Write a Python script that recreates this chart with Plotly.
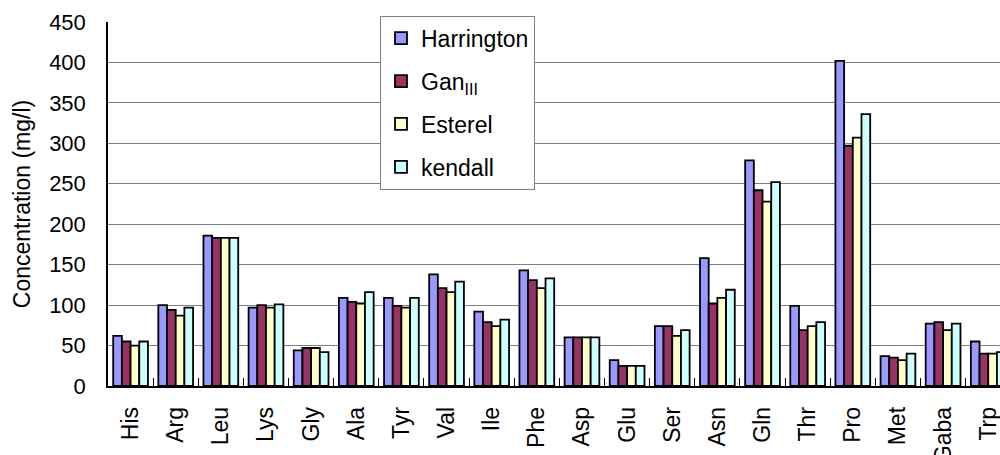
import plotly.graph_objects as go

# Amino acid concentrations (mg/l) in four wines
amino_acids = ["His", "Arg", "Leu", "Lys", "Gly", "Ala", "Tyr", "Val", "Ile", "Phe",
               "Asp", "Glu", "Ser", "Asn", "Gln", "Thr", "Pro", "Met", "Gaba", "Trp"]

harrington = [62, 100, 186, 97, 44, 109, 109, 138, 92, 143,
              60, 32, 74, 158, 279, 99, 402, 37, 77, 55]
gan_iii = [55, 94, 183, 100, 47, 104, 99, 121, 79, 131,
           60, 25, 74, 102, 242, 69, 297, 35, 79, 40]
esterel = [50, 87, 183, 97, 47, 102, 97, 116, 74, 121,
           60, 25, 62, 109, 228, 74, 307, 32, 69, 40]
kendall = [55, 97, 183, 101, 42, 116, 109, 129, 82, 133,
           60, 25, 69, 119, 252, 79, 336, 40, 77, 42]

series_names = ["Harrington", "Gan<sub>III</sub>", "Esterel", "kendall"]
series_values = [harrington, gan_iii, esterel, kendall]
series_colors = ["#9999FF", "#993366", "#FFFFCC", "#CCFFFF"]

FONT = "Liberation Sans, Arial, sans-serif"

fig = go.Figure()
for name, vals, col in zip(series_names, series_values, series_colors):
    fig.add_trace(go.Bar(
        x=amino_acids, y=vals, name=name, legendgroup=name,
        marker=dict(color=col, line=dict(color="black", width=1.8)),
    ))

W, H = 1000, 455
L, R, T, B = 108, 0, 22, 69
plot_w = W - L - R
cat_w = 45.14

fig.update_layout(
    width=W, height=H,
    margin=dict(l=L, r=R, t=T, b=B, autoexpand=False),
    paper_bgcolor="white", plot_bgcolor="white",
    barmode="group", bargap=0.23, bargroupgap=0,
    font=dict(family=FONT, color="black"),
    showlegend=True,
    legend=dict(
        x=(380 - L) / plot_w, y=(H - B - 15.7) / (H - T - B),
        xanchor="left", yanchor="top",
        bgcolor="white", bordercolor="#808080", borderwidth=1,
        font=dict(family=FONT, size=23, color="black"),
        traceorder="grouped", tracegroupgap=10,
    ),
    xaxis=dict(
        type="category",
        range=[-0.5, -0.5 + plot_w / cat_w],
        tickangle=-90,
        tickfont=dict(family=FONT, size=23),
        ticks="inside", ticklen=8, tickcolor="black", tickwidth=1,
        tickson="boundaries",
        ticklabelstandoff=10,
        showline=True, linecolor="black", linewidth=1.5,
        showgrid=False, zeroline=False,
        automargin=False,
    ),
    yaxis=dict(
        range=[0, 450], dtick=50,
        tickfont=dict(family=FONT, size=22),
        ticklabelstandoff=16,
        showline=True, linecolor="black", linewidth=1.5,
        showgrid=True, gridcolor="#808080", gridwidth=1,
        zeroline=False,
        automargin=False,
        title=dict(text="Concentration (mg/l)",
                   font=dict(family=FONT, size=23), standoff=12),
    ),
)

fig.write_html("out.html")
